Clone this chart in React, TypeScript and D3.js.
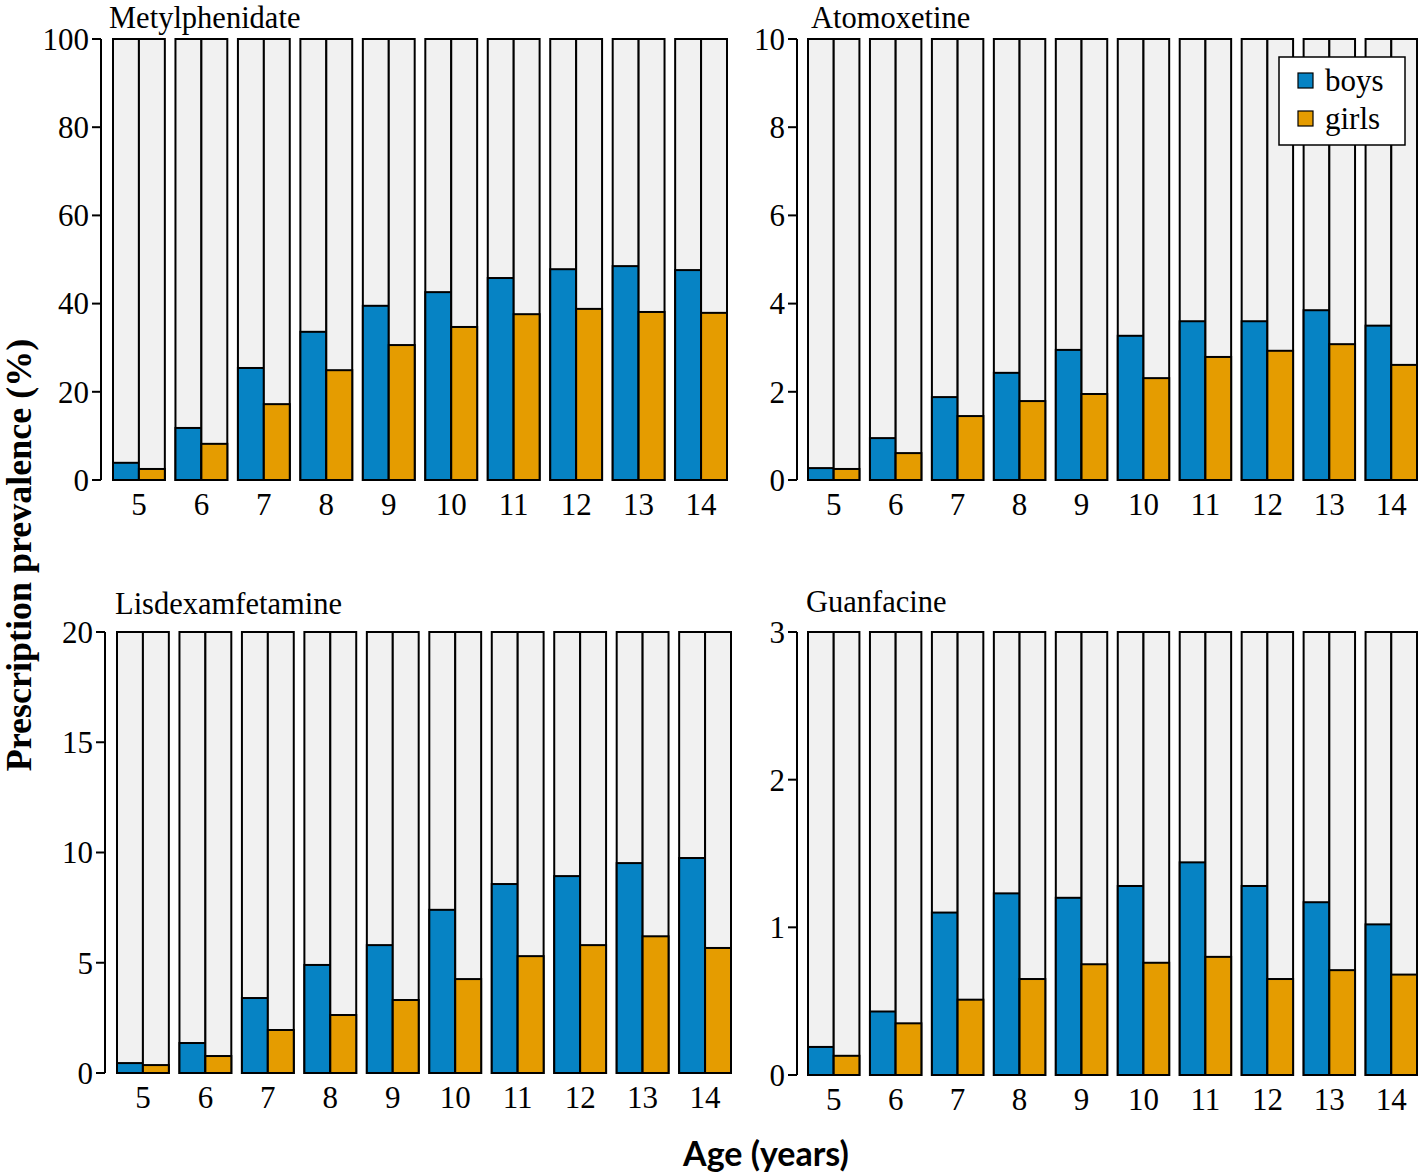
import React from "react";
import * as d3 from "d3";

const ages = ["5", "6", "7", "8", "9", "10", "11", "12", "13", "14"];

const methBoys = [3.9, 11.8, 25.4, 33.6, 39.5, 42.6, 45.8, 47.8, 48.5, 47.6];
const methGirls = [2.5, 8.2, 17.2, 24.9, 30.6, 34.7, 37.6, 38.8, 38.1, 37.9];
const methTicks = [0, 20, 40, 60, 80, 100];

const atoBoys = [0.27, 0.95, 1.88, 2.43, 2.95, 3.27, 3.6, 3.6, 3.85, 3.5];
const atoGirls = [0.25, 0.61, 1.45, 1.79, 1.95, 2.31, 2.79, 2.93, 3.08, 2.61];
const atoTicks = [0, 2, 4, 6, 8, 10];

const lisBoys = [0.45, 1.36, 3.4, 4.9, 5.8, 7.4, 8.57, 8.93, 9.52, 9.75];
const lisGirls = [0.36, 0.77, 1.95, 2.63, 3.31, 4.26, 5.3, 5.8, 6.2, 5.67];
const lisTicks = [0, 5, 10, 15, 20];

const guaBoys = [0.19, 0.43, 1.1, 1.23, 1.2, 1.28, 1.44, 1.28, 1.17, 1.02];
const guaGirls = [0.13, 0.35, 0.51, 0.65, 0.75, 0.76, 0.8, 0.65, 0.71, 0.68];
const guaTicks = [0, 1, 2, 3];

const sexes = ["boys", "girls"];
const colors: Record<string, string> = { boys: "#0683c4", girls: "#e59c00" };

const SERIF = "'Liberation Serif', 'Times New Roman', serif";

type PanelProps = {
  title: string;
  boys: number[];
  girls: number[];
  ticks: number[];
  axisX: number;
  yTop: number;
  yBottom: number;
  barsStart: number;
  barsEnd: number;
  titleX: number;
  titleY: number;
};

function Panel(p: PanelProps) {
  const max = d3.max(p.ticks) as number;
  const y = d3.scaleLinear().domain([0, max]).range([p.yBottom, p.yTop]);
  const x = d3
    .scaleBand<string>()
    .domain(ages)
    .range([p.barsStart, p.barsEnd])
    .paddingInner(0.17)
    .paddingOuter(0);
  const sub = d3.scaleBand<string>().domain(sexes).range([0, x.bandwidth()]).padding(0);
  const vals: Record<string, number[]> = { boys: p.boys, girls: p.girls };
  return (
    <g>
      <text x={p.titleX} y={p.titleY} fontFamily={SERIF} fontSize={30.5} fill="#000">
        {p.title}
      </text>
      <line x1={p.axisX} x2={p.axisX} y1={y(max)} y2={y(0)} stroke="#000" strokeWidth={2} />
      {p.ticks.map((t) => (
        <g key={t}>
          <line x1={p.axisX - 9} x2={p.axisX} y1={y(t)} y2={y(t)} stroke="#000" strokeWidth={2} />
          <text
            x={p.axisX - 12}
            y={y(t)}
            dy="0.35em"
            textAnchor="end"
            fontFamily={SERIF}
            fontSize={31}
            fill="#000"
          >
            {t}
          </text>
        </g>
      ))}
      {ages.map((a, i) => (
        <g key={a}>
          {sexes.map((s) => {
            const bx = (x(a) as number) + (sub(s) as number);
            const bw = sub.bandwidth();
            const v = vals[s][i];
            return (
              <g key={s}>
                <rect
                  x={bx}
                  y={y(max)}
                  width={bw}
                  height={y(0) - y(max)}
                  fill="#f1f1f1"
                  stroke="#000"
                  strokeWidth={2}
                />
                <rect
                  x={bx}
                  y={y(v)}
                  width={bw}
                  height={y(0) - y(v)}
                  fill={colors[s]}
                  stroke="#000"
                  strokeWidth={2}
                />
              </g>
            );
          })}
          <text
            x={(x(a) as number) + x.bandwidth() / 2}
            y={y(0) + 24}
            dy="0.35em"
            textAnchor="middle"
            fontFamily={SERIF}
            fontSize={31}
            fill="#000"
          >
            {a}
          </text>
        </g>
      ))}
    </g>
  );
}

function Legend({ x, y }: { x: number; y: number }) {
  return (
    <g>
      <rect x={x} y={y} width={126} height={88} fill="#fff" stroke="#000" strokeWidth={1.5} />
      {sexes.map((s, i) => (
        <g key={s}>
          <rect
            x={x + 19}
            y={y + 16 + i * 38}
            width={15}
            height={15}
            fill={colors[s]}
            stroke="#000"
            strokeWidth={1.2}
          />
          <text
            x={x + 46}
            y={y + 23 + i * 38}
            dy="0.35em"
            fontFamily={SERIF}
            fontSize={31}
            fill="#000"
          >
            {s}
          </text>
        </g>
      ))}
    </g>
  );
}

export default function App() {
  return (
    <svg
      width={1418}
      height={1172}
      style={{ position: "absolute", left: 0, top: 0, background: "#fff" }}
    >
      <rect x={0} y={0} width={1418} height={1172} fill="#fff" />
      <Panel
        title="Metylphenidate"
        boys={methBoys}
        girls={methGirls}
        ticks={methTicks}
        axisX={101}
        yTop={39}
        yBottom={480}
        barsStart={113}
        barsEnd={727}
        titleX={109}
        titleY={28}
      />
      <Panel
        title="Atomoxetine"
        boys={atoBoys}
        girls={atoGirls}
        ticks={atoTicks}
        axisX={797}
        yTop={39}
        yBottom={480}
        barsStart={808}
        barsEnd={1417}
        titleX={811}
        titleY={28}
      />
      <Panel
        title="Lisdexamfetamine"
        boys={lisBoys}
        girls={lisGirls}
        ticks={lisTicks}
        axisX={105}
        yTop={632}
        yBottom={1073}
        barsStart={117}
        barsEnd={731}
        titleX={115}
        titleY={614}
      />
      <Panel
        title="Guanfacine"
        boys={guaBoys}
        girls={guaGirls}
        ticks={guaTicks}
        axisX={797}
        yTop={632}
        yBottom={1075}
        barsStart={808}
        barsEnd={1417}
        titleX={806}
        titleY={612}
      />
      <Legend x={1279} y={57} />
      <text
        transform="translate(31,555) rotate(-90)"
        textAnchor="middle"
        fontFamily={SERIF}
        fontWeight="bold"
        fontSize={36}
        fill="#000"
      >
        Prescription prevalence (%)
      </text>
      <text
        x={766}
        y={1166}
        textAnchor="middle"
        fontFamily="Lato, 'Open Sans', sans-serif"
        fontWeight="bold"
        fontSize={34}
        fill="#000"
      >
        Age (years)
      </text>
    </svg>
  );
}
